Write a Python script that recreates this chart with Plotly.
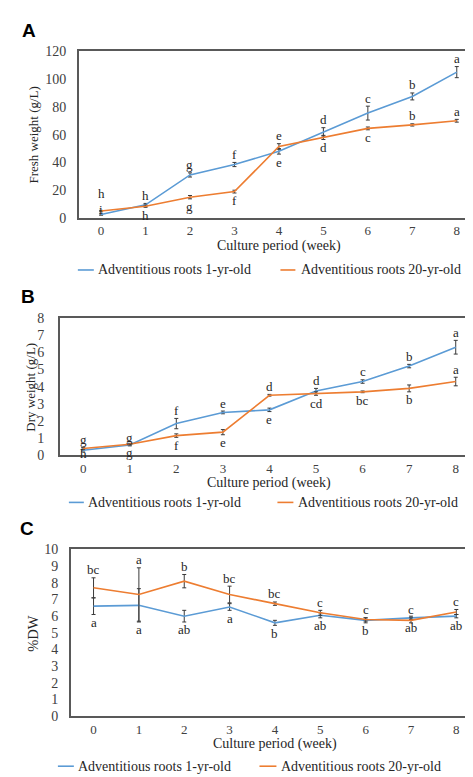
import plotly.graph_objects as go

# ---------------- data ----------------
weeks = [0, 1, 2, 3, 4, 5, 6, 7, 8]
series_names = ["Adventitious roots 1-yr-old", "Adventitious roots 20-yr-old"]

# Panel A: fresh weight (g/L)
fw_1yr = [2.5, 9.5, 31.0, 38.5, 48.0, 62.0, 75.5, 87.5, 105.0]
fw_1yr_err = [0.5, 1.0, 1.5, 1.5, 2.0, 3.0, 5.0, 2.5, 4.0]
fw_20yr = [5.0, 8.5, 15.0, 19.0, 51.5, 58.0, 64.5, 67.0, 70.0]
fw_20yr_err = [0.5, 0.8, 1.2, 1.0, 2.0, 1.5, 1.0, 0.8, 1.0]
fw_1yr_letters = ["i", "h", "g", "f", "e", "d", "c", "b", "a"]
fw_20yr_letters = ["h", "h", "g", "f", "e", "d", "c", "b", "a"]

# Panel B: dry weight (g/L)
dw_1yr = [0.3, 0.6, 1.85, 2.5, 2.65, 3.75, 4.3, 5.2, 6.3]
dw_1yr_err = [0.05, 0.05, 0.3, 0.08, 0.1, 0.15, 0.1, 0.1, 0.4]
dw_20yr = [0.4, 0.65, 1.15, 1.35, 3.5, 3.6, 3.7, 3.9, 4.3]
dw_20yr_err = [0.05, 0.05, 0.1, 0.15, 0.05, 0.1, 0.05, 0.2, 0.25]
dw_1yr_letters = ["h", "g", "f", "e", "e", "d", "c", "b", "a"]
dw_20yr_letters = ["g", "g", "f", "e", "d", "cd", "bc", "b", "a"]

# Panel C: %DW
pct_1yr = [6.6, 6.65, 6.0, 6.55, 5.6, 6.05, 5.75, 5.9, 6.0]
pct_1yr_err = [0.5, 1.0, 0.35, 0.2, 0.15, 0.15, 0.15, 0.1, 0.1]
pct_20yr = [7.7, 7.3, 8.1, 7.3, 6.75, 6.2, 5.8, 5.75, 6.25]
pct_20yr_err = [0.6, 1.6, 0.4, 0.5, 0.1, 0.15, 0.1, 0.15, 0.15]
pct_1yr_letters = ["a", "a", "ab", "a", "b", "ab", "b", "ab", "ab"]
pct_20yr_letters = ["bc", "a", "b", "bc", "bc", "c", "c", "c", "c"]

x_title = "Culture period (week)"
y_titles = ["Fresh weight (g/L)", "Dry weight (g/L)", "%DW"]
panel_labels = ["A", "B", "C"]

# ---------------- styles / layout ----------------
W, H = 473, 777
BLUE = "#5B9BD5"
ORANGE = "#ED7D31"
SERIF = "Liberation Serif, Times New Roman, Times, DejaVu Serif, serif"
TXT = "#262626"


def px(x):
    return x / W


def py(y):
    return 1 - y / H


panels = [
    dict(box=(71, 37, 472, 207), yrange=(0, 120), dtick=20, yticklen=8,
         data=(fw_1yr, fw_1yr_err, fw_1yr_letters, fw_20yr, fw_20yr_err, fw_20yr_letters),
         off1=[4, 8, 8, 8, -8, 8, 8, 8, 8], off2=[17, -8, -8, -8, 8, -8, -8, 8, 8],
         label_xy=(21, 16), ytitle_x=26, xtitle_y=236,
         legend=dict(y=260, l1=(70, 86), t1=88, l2=(273, 288), t2=292)),
    dict(box=(52, 309, 472, 449), yrange=(0, 8), dtick=1, yticklen=11,
         data=(dw_1yr, dw_1yr_err, dw_1yr_letters, dw_20yr, dw_20yr_err, dw_20yr_letters),
         off1=[-2, -7, 8, 8, -8, 8, 8, 8, 8], off2=[8, 6, -8, -8, 8, -8, -8, -8, 8],
         label_xy=(20, 287), ytitle_x=23, xtitle_y=477,
         legend=dict(y=497, l1=(61, 76), t1=78, l2=(270, 286), t2=289)),
    dict(box=(63, 545, 472, 715), yrange=(0, 10), dtick=1, yticklen=8,
         data=(pct_1yr, pct_1yr_err, pct_1yr_letters, pct_20yr, pct_20yr_err, pct_20yr_letters),
         off1=[-8] * 9, off2=[8] * 9,
         label_xy=(19, 524), ytitle_x=25, xtitle_y=743,
         legend=dict(y=766, l1=(50, 66), t1=68, l2=(252, 269), t2=272)),
]

fig = go.Figure()
annotations = []
shapes = []

for i, p in enumerate(panels):
    n = "" if i == 0 else str(i + 1)
    xa, ya = "x" + n, "y" + n
    l, t, r, b = p["box"]
    y1, e1, let1, y2, e2, let2 = p["data"]
    for yy, ee, col, name in [(y1, e1, BLUE, series_names[0]), (y2, e2, ORANGE, series_names[1])]:
        fig.add_trace(go.Scatter(
            x=weeks, y=yy, mode="lines", name=name, showlegend=False,
            line=dict(color=col, width=1.6),
            error_y=dict(type="data", array=ee, visible=True, color="#3a3a3a", thickness=1, width=2),
            xaxis=xa, yaxis=ya, hoverinfo="skip"))
    # significance letters
    for yy, ee, lets, offs in [(y1, e1, let1, p["off1"]), (y2, e2, let2, p["off2"])]:
        for xv, yv, ev, lt, off in zip(weeks, yy, ee, lets, offs):
            if off > 0:
                yref_v, shift = yv + ev, off
            elif off < 0:
                yref_v, shift = yv - ev, off
            else:
                yref_v, shift = yv, 0
            annotations.append(dict(x=xv, y=yref_v, xref=xa, yref=ya, text=lt, showarrow=False,
                                    xanchor="center", yanchor="middle",
                                    yshift=shift, font=dict(family=SERIF, size=13, color=TXT)))
    axkey = "xaxis" + n
    aykey = "yaxis" + n
    fig.update_layout(**{
        axkey: dict(domain=[px(l), px(r)], range=[-0.5, 8.5], tickmode="array", tickvals=weeks,
                    ticktext=[str(w) for w in weeks], showgrid=False, zeroline=False,
                    showline=True, mirror=True, linecolor="#595959", linewidth=1.5,
                    ticks="", tickfont=dict(family=SERIF, size=13, color="#404040"), anchor=ya,
                    fixedrange=True),
        aykey: dict(domain=[py(b), py(t)], range=list(p["yrange"]), dtick=p["dtick"], tick0=0,
                    showgrid=False, zeroline=False, showline=True, mirror=True,
                    linecolor="#595959", linewidth=1.5, ticks="outside", ticklen=p["yticklen"],
                    tickcolor="rgba(0,0,0,0)",
                    tickfont=dict(family=SERIF, size=14, color="#404040"), anchor=xa,
                    fixedrange=True),
    })
    # panel label
    annotations.append(dict(x=px(p["label_xy"][0]), y=py(p["label_xy"][1]), xref="paper", yref="paper",
                            xanchor="center", yanchor="middle",
                            text="<b>%s</b>" % panel_labels[i], showarrow=False,
                            font=dict(family="Liberation Sans, Arial, sans-serif", size=19, color="#000000")))
    # axis titles
    annotations.append(dict(x=px(p["ytitle_x"]), y=py((t + b) / 2), xref="paper", yref="paper",
                            xanchor="center", yanchor="middle",
                            text=y_titles[i], textangle=-90, showarrow=False,
                            font=dict(family=SERIF, size=13 if i < 2 else 14.5, color=TXT)))
    annotations.append(dict(x=px((l + r) / 2), y=py(p["xtitle_y"]), xref="paper", yref="paper",
                            xanchor="center", yanchor="middle",
                            text=x_title, showarrow=False,
                            font=dict(family=SERIF, size=14, color=TXT)))
    # manual legend
    lg = p["legend"]
    for (x0, x1), tx, col, name in [(lg["l1"], lg["t1"], BLUE, series_names[0]),
                                    (lg["l2"], lg["t2"], ORANGE, series_names[1])]:
        shapes.append(dict(type="line", xref="paper", yref="paper", x0=px(x0), x1=px(x1),
                           y0=py(lg["y"]), y1=py(lg["y"]), line=dict(color=col, width=1.6)))
        annotations.append(dict(x=px(tx), y=py(lg["y"]), xref="paper", yref="paper", text=name,
                                xanchor="left", yanchor="middle", showarrow=False,
                                font=dict(family=SERIF, size=14, color=TXT)))

fig.update_layout(
    width=W, height=H, margin=dict(l=0, r=0, t=0, b=0),
    paper_bgcolor="white", plot_bgcolor="white",
    annotations=annotations, shapes=shapes, showlegend=False,
    font=dict(family=SERIF),
)

fig.write_html("out.html")
